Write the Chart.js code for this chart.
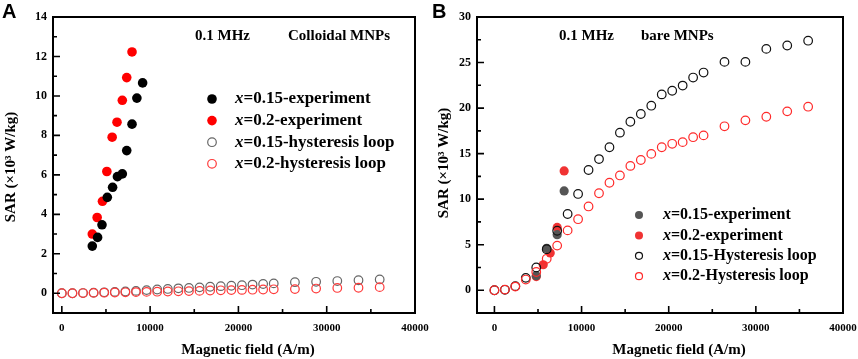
<!DOCTYPE html>
<html>
<head>
<meta charset="utf-8">
<script src="https://cdn.jsdelivr.net/npm/chart.js@4.4.1/dist/chart.umd.min.js"></script>
<style>
  body { margin: 0; background: #fff; width: 858px; height: 359px; position: relative; overflow: hidden; }
  .box { position: absolute; top: 0; height: 359px; }
  #boxA { left: 0; width: 430px; }
  #boxB { left: 430px; width: 428px; }
</style>
</head>
<body>
<div class="box" id="boxA"><canvas id="chartA"></canvas></div>
<div class="box" id="boxB"><canvas id="chartB"></canvas></div>
<script>
'use strict'

// field values (A/m) used by the hysteresis-loop calculation
const loopField = [0, 1200, 2400, 3600, 4800, 6000, 7200, 8400, 9600, 10800, 12000, 13200, 14400,
  15600, 16800, 18000, 19200, 20400, 21600, 22800, 24000, 26400, 28800, 31200, 33600, 36000];

// panel A - colloidal MNPs
const loopA15 = [0, 0, 0.01, 0.03, 0.05, 0.07, 0.09, 0.12, 0.16, 0.19, 0.22, 0.25, 0.27,
  0.3, 0.33, 0.36, 0.38, 0.41, 0.44, 0.47, 0.5, 0.56, 0.58, 0.62, 0.66, 0.7];
const loopA20 = [0, 0, 0.01, 0.02, 0.03, 0.04, 0.05, 0.06, 0.07, 0.08, 0.09, 0.1, 0.11,
  0.12, 0.14, 0.15, 0.16, 0.17, 0.18, 0.19, 0.2, 0.21, 0.24, 0.27, 0.28, 0.31];
const expA15Field = [3450, 4050, 4550, 5150, 5750, 6300, 6850, 7350, 7950, 8500, 9150];
const expA15Sar = [2.39, 2.83, 3.47, 4.86, 5.37, 5.91, 6.05, 7.23, 8.57, 9.89, 10.66];
const expA20Field = [3450, 4000, 4600, 5100, 5700, 6250, 6850, 7350, 7950];
const expA20Sar = [3.0, 3.84, 4.66, 6.17, 7.91, 8.67, 9.78, 10.93, 12.23];

// panel B - bare MNPs
const loopB15 = [0, 0.05, 0.45, 1.36, 2.5, 4.5, 6.53, 8.37, 10.57, 13.2, 14.4, 15.7, 17.3,
  18.5, 19.35, 20.26, 21.5, 21.9, 22.47, 23.35, 23.9, 25.07, 25.07, 26.5, 26.87, 27.4];
const loopB20 = [0, 0.07, 0.4, 1.17, 2.0, 3.45, 4.9, 6.57, 7.8, 9.2, 10.65, 11.8, 12.6,
  13.65, 14.3, 14.97, 15.7, 16.08, 16.26, 16.8, 17.0, 18.0, 18.65, 19.05, 19.64, 20.15];
const expB15Field = [4800, 6000, 7200, 8000];
const expB15Sar = [1.6, 4.6, 6.1, 10.9];
const expB20Field = [4800, 5600, 6400, 7200, 8000];
const expB20Sar = [1.5, 2.8, 4.1, 6.9, 13.1];

// ticks
const xTicks = [0, 10000, 20000, 30000, 40000];
const xMinor = [5000, 15000, 25000, 35000];
const yTicksA = [0, 2, 4, 6, 8, 10, 12, 14];
const yMinorA = [1, 3, 5, 7, 9, 11, 13];
const yTicksB = [0, 5, 10, 15, 20, 25, 30];
const yMinorB = [2.5, 7.5, 12.5, 17.5, 22.5, 27.5];

const legendA = ['0.15-experiment', '0.2-experiment', '0.15-hysteresis loop', '0.2-hysteresis loop'];
const legendB = ['0.15-experiment', '0.2-experiment', '0.15-Hysteresis loop', '0.2-Hysteresis loop'];

const SERIF = "'Liberation Serif', 'Times New Roman', serif";

const pts = (xs, ys) => xs.map((x, i) => ({ x: x, y: ys[i] }));

function filled(color, data, r) {
  return { data, pointStyle: 'circle', pointRadius: r, pointBackgroundColor: color,
    pointBorderColor: color, pointBorderWidth: 0, showLine: false, order: 2 };
}
function open(color, data, order) {
  return { data, pointStyle: 'circle', pointRadius: 4.3, pointBackgroundColor: 'rgba(0,0,0,0)',
    pointBorderColor: color, pointBorderWidth: 1.2, showLine: false, order: order };
}

function drawCircle(ctx, x, y, r, fill, stroke) {
  ctx.beginPath();
  ctx.arc(x, y, r, 0, Math.PI * 2);
  if (fill) { ctx.fillStyle = fill; ctx.fill(); }
  if (stroke) { ctx.strokeStyle = stroke; ctx.lineWidth = 1.2; ctx.stroke(); }
}

// frame, inward ticks, legend and labels
const decor = {
  id: 'decor',
  afterDatasetsDraw(chart, args, o) {
    const { ctx, chartArea: a, scales: { x, y } } = chart;
    ctx.save();
    ctx.strokeStyle = '#000';
    ctx.lineWidth = 2;
    ctx.strokeRect(a.left, a.top, a.right - a.left, a.bottom - a.top);

    ctx.lineWidth = 1.6;
    ctx.beginPath();
    xTicks.forEach(v => { const p = x.getPixelForValue(v); ctx.moveTo(p, a.bottom); ctx.lineTo(p, a.bottom - 7); });
    xMinor.forEach(v => { const p = x.getPixelForValue(v); ctx.moveTo(p, a.bottom); ctx.lineTo(p, a.bottom - 4); });
    o.yMajor.forEach(v => { const p = y.getPixelForValue(v); ctx.moveTo(a.left, p); ctx.lineTo(a.left + 7, p); });
    o.yMinor.forEach(v => { const p = y.getPixelForValue(v); ctx.moveTo(a.left, p); ctx.lineTo(a.left + 4, p); });
    ctx.stroke();

    // panel letter
    ctx.fillStyle = '#000';
    ctx.textBaseline = 'middle';
    ctx.textAlign = 'left';
    ctx.font = "bold 20px 'Liberation Sans', Arial, sans-serif";
    ctx.fillText(o.letter, o.letterX, 12);

    // notes at the top
    ctx.font = 'bold 15px ' + SERIF;
    o.notes.forEach(n => ctx.fillText(n.text, n.x, 36));

    // legend
    const sets = chart.data.datasets;
    o.legend.forEach((label, i) => {
      const ds = sets[i];
      const ly = o.legY + i * o.legGap;
      const isOpen = ds.pointBackgroundColor === 'rgba(0,0,0,0)';
      drawCircle(ctx, o.legX, ly, isOpen ? o.legR - 0.5 : o.legR, isOpen ? null : ds.pointBackgroundColor,
        isOpen ? ds.pointBorderColor : null);
      ctx.fillStyle = '#000';
      ctx.font = 'italic bold ' + o.legFont + 'px ' + SERIF;
      ctx.fillText('x', o.textX, ly);
      const w = ctx.measureText('x').width;
      ctx.font = 'bold ' + o.legFont + 'px ' + SERIF;
      ctx.fillText('=' + label, o.textX + w, ly);
    });

    // axis titles
    ctx.font = 'bold 15px ' + SERIF;
    ctx.textAlign = 'center';
    ctx.fillText('Magnetic field (A/m)', o.xTitleX, 350);
    ctx.translate(o.yTitleX, o.yTitleY);
    ctx.rotate(-Math.PI / 2);
    ctx.fillText('SAR (\u00d710\u00b3 W/kg)', 0, 0);
    ctx.restore();
  }
};

function makeChart(id, datasets, xMin, yMin, yMax, yMajor, yMinor, yWidth, deco) {
  return new Chart(document.getElementById(id), {
    type: 'scatter',
    data: { datasets },
    plugins: [decor],
    options: {
      responsive: true,
      maintainAspectRatio: false,
      animation: false,
      layout: { padding: { top: 17, right: 15, left: 0, bottom: 0 } },
      scales: {
        x: {
          type: 'linear', min: xMin, max: 40000,
          afterBuildTicks: s => { s.ticks = xTicks.map(v => ({ value: v })); },
          afterFit: s => { s.height = 46; s.paddingLeft = 0; s.paddingRight = 0; },
          grid: { display: false, drawTicks: false },
          border: { display: false },
          ticks: { padding: 9, color: '#000', maxRotation: 0, autoSkip: false,
            font: { family: SERIF, weight: 'bold', size: 11 }, callback: v => String(v) }
        },
        y: {
          type: 'linear', min: yMin, max: yMax,
          afterBuildTicks: s => { s.ticks = yMajor.map(v => ({ value: v })); },
          afterFit: s => { s.width = yWidth; s.paddingTop = 0; s.paddingBottom = 0; },
          grid: { display: false, drawTicks: false },
          border: { display: false },
          ticks: { padding: 6, color: '#000', autoSkip: false,
            font: { family: SERIF, weight: 'bold', size: 12 }, callback: v => String(v) }
        }
      },
      plugins: {
        legend: { display: false },
        tooltip: { enabled: false },
        decor: Object.assign({ yMajor, yMinor }, deco)
      }
    }
  });
}

makeChart('chartA', [
  filled('#000000', pts(expA15Field, expA15Sar), 4.8),
  filled('#ff0000', pts(expA20Field, expA20Sar), 4.8),
  open('#666666', pts(loopField, loopA15), 1),
  open('#ff3b3b', pts(loopField, loopA20), 0)
], -1000, -1, 14, yTicksA, yMinorA, 53, {
  letter: 'A', letterX: 2,
  notes: [{ text: '0.1 MHz', x: 195 }, { text: 'Colloidal MNPs', x: 288 }],
  legend: legendA, legX: 212, textX: 235, legY: 99, legGap: 21.6, legR: 4.8, legFont: 17,
  xTitleX: 248, yTitleX: 11, yTitleY: 167
});

makeChart('chartB', [
  filled('#555555', pts(expB15Field, expB15Sar), 4.6),
  filled('#f03333', pts(expB20Field, expB20Sar), 4.6),
  open('#111111', pts(loopField, loopB15), 1),
  open('#ff2a2a', pts(loopField, loopB20), 0)
], -2000, -2.5, 30, yTicksB, yMinorB, 47, {
  letter: 'B', letterX: 2,
  notes: [{ text: '0.1 MHz', x: 129 }, { text: 'bare MNPs', x: 211 }],
  legend: legendB, legX: 209, textX: 233, legY: 215, legGap: 20.4, legR: 4, legFont: 16,
  xTitleX: 249, yTitleX: 14, yTitleY: 163
});
</script>
</body>
</html>
